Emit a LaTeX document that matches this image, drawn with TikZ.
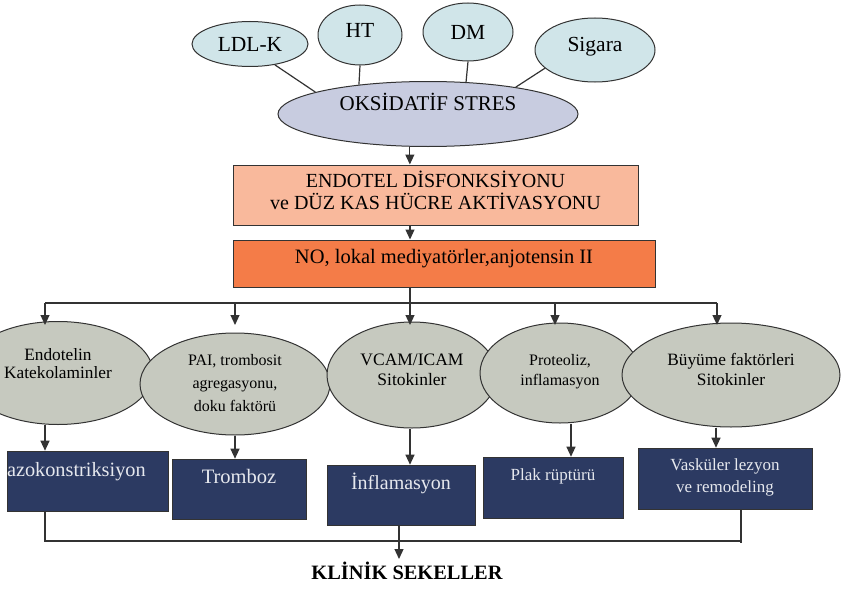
\documentclass[tikz,border=0pt]{standalone}
\usepackage{fontspec}
\setmainfont{Liberation Serif}
\usetikzlibrary{shapes.geometric,arrows.meta}
\definecolor{topfill}{HTML}{D0E5E9}
\definecolor{oksfill}{HTML}{C8CCE0}
\definecolor{endofill}{HTML}{F9B99C}
\definecolor{nofill}{HTML}{F47C48}
\definecolor{grayfill}{HTML}{C6C9BF}
\definecolor{navy}{HTML}{2C3A62}
\definecolor{linec}{HTML}{333333}
\definecolor{navytext}{HTML}{E6E8EE}
\newcommand{\liftc}[2]{\raisebox{#1}[\height][\depth]{\begin{tabular}{@{}c@{}}#2\end{tabular}}}
\newcommand{\fs}[2]{\fontsize{#1}{#2}\selectfont}
\begin{document}
\begin{tikzpicture}[x=1pt,y=-1pt,
  ln/.style={draw=linec, line width=1.2pt},
  arr/.style={ln, -{Triangle[length=10pt,width=9pt]}},
  topell/.style={ellipse, draw=linec, line width=1pt, fill=topfill, inner sep=0pt, font=\fs{21.5}{24}},
  botell/.style={ellipse, draw=linec, line width=1pt, fill=grayfill, inner sep=0pt},
  navybox/.style={rectangle, draw=linec, line width=0.6pt, fill=navy, text=navytext, inner sep=0pt}
]
\useasboundingbox (0,0) rectangle (843,594);
\fill[white] (0,0) rectangle (843,594);

% top risk factors
\node[topell, minimum width=116pt, minimum height=45pt] (ldl) at (250,44) {LDL-K};
\node[topell, minimum width=84pt, minimum height=60pt] (ht) at (360,35) {\liftc{2pt}{HT}};
\node[topell, minimum width=90pt, minimum height=58pt] (dm) at (468,32) {DM};
\node[topell, minimum width=120pt, minimum height=64pt] (sig) at (595,50) {\liftc{3pt}{Sigara}};
\node[ellipse, draw=linec, line width=1pt, fill=oksfill, inner sep=0pt, minimum width=300pt, minimum height=65pt, font=\fs{21}{24}] (oks) at (428,114) {\liftc{9pt}{OKS\.{I}DAT\.{I}F STRES}};

\draw[ln] (ldl.-40) -- (oks.169);
\draw[ln] (ht.south) -- (oks.157);
\draw[ln] (dm.south) -- (oks.40);
\draw[ln] (sig.200) -- (oks.17);

% boxes
\node[rectangle, draw=linec, line width=1pt, fill=endofill, inner sep=0pt, minimum width=405pt, minimum height=60pt, font=\fs{20}{18}] (endo) at (435.5,195) {\liftc{2pt}{ENDOTEL D\.{I}SFONKS\.{I}YONU\\ve DÜZ KAS HÜCRE AKT\.{I}VASYONU}};
\node[rectangle, draw=linec, line width=1pt, fill=nofill, inner sep=0pt, minimum width=422pt, minimum height=47pt, font=\fs{20.5}{24}] (nobox) at (444,263.5) {\liftc{5pt}{NO, lokal mediyatörler,anjotensin II}};

\coordinate (spine) at (410,0);
\coordinate (bar) at (410,303);
\coordinate (tipy) at (0,325);
\draw[arr] (oks.-119) -- (oks.-119 |- endo.north);
\draw[arr] (endo.south -| spine) -- (nobox.north -| spine);

% bottom ellipses
\node[botell, minimum width=190pt, minimum height=103pt, font=\fs{17.3}{17}] (e1) at (58,373) {\liftc{7pt}{Endotelin\\Katekolaminler}};
\node[botell, minimum width=190pt, minimum height=102pt, font=\fs{16}{23}] (e2) at (235,384) {\liftc{0pt}{PAI, trombosit\\agregasyonu,\\doku faktörü}};
\node[botell, minimum width=170pt, minimum height=106pt, font=\fs{17.5}{20}] (e3) at (412,375) {\liftc{4pt}{VCAM/ICAM\\Sitokinler}};
\node[botell, minimum width=160pt, minimum height=100pt, font=\fs{16}{20}] (e4) at (560,373) {\liftc{2pt}{Proteoliz,\\inflamasyon}};
\node[botell, minimum width=218pt, minimum height=104pt, font=\fs{17.3}{20}] (e5) at (731,375) {\liftc{4pt}{Büyüme faktörleri\\Sitokinler}};

\coordinate (a1) at (45,303);
\coordinate (a2) at (235,303);
\coordinate (a4) at (555,303);
\coordinate (a5) at (717,303);
\draw[ln] (nobox.south -| spine) -- (bar);
\draw[ln] (a1) -- (a5);
\draw[arr] (a1) -- (a1 |- tipy);
\draw[arr] (a2) -- (a2 |- tipy);
\draw[arr] (bar) -- (bar |- tipy);
\draw[arr] (a4) -- (a4 |- tipy);
\draw[arr] (a5) -- (a5 |- tipy);

% result boxes
\node[navybox, minimum width=161pt, minimum height=60pt, font=\fs{20.3}{22}] (b1) at (87.5,481) {\liftc{9pt}{\makebox[161pt][l]{azokonstriksiyon}}};
\node[navybox, minimum width=134pt, minimum height=60pt, font=\fs{20.5}{22}] (b2) at (239,489) {\liftc{10pt}{Tromboz}};
\node[navybox, minimum width=148pt, minimum height=60pt, font=\fs{20}{22}] (b3) at (401,495) {\liftc{10pt}{\.{I}nflamasyon}};
\node[navybox, minimum width=140pt, minimum height=61pt, font=\fs{17}{20}] (b4) at (553,487.5) {\liftc{11pt}{Plak rüptürü}};
\node[navybox, minimum width=174pt, minimum height=61pt, font=\fs{17}{22}] (b5) at (725,478.5) {\liftc{1pt}{Vasküler lezyon\\ve remodeling}};

\coordinate (x1) at (45,0);
\coordinate (x2) at (235,0);
\coordinate (x3) at (410,0);
\coordinate (x4) at (571,0);
\coordinate (x5) at (716,0);
\draw[arr] (x1 |- e1.south) -- (x1 |- b1.north);
\draw[arr] (x2 |- e2.south) -- (x2 |- b2.north);
\draw[arr] (x3 |- e3.south) -- (x3 |- b3.north);
\draw[arr] (x4 |- e4.south) -- (x4 |- b4.north);
\draw[arr] (x5 |- e5.south) -- (x5 |- b5.north);

% clinical outcome
\coordinate (bot) at (0,541);
\coordinate (xl) at (45,0);
\coordinate (xr) at (741,0);
\coordinate (xk) at (399,0);
\coordinate (tipk) at (0,559);
\node[font=\bfseries\fs{20.4}{24}, inner sep=0pt] (klin) at (407,571) {KL\.{I}N\.{I}K SEKELLER};
\draw[ln] (xl |- b1.south) -- (xl |- bot) -- (xr |- bot);
\draw[ln] (xr |- b5.south) -- ([yshift=-2pt]xr |- bot);
\draw[arr] (xk |- b3.south) -- (xk |- tipk);
\end{tikzpicture}
\end{document}
